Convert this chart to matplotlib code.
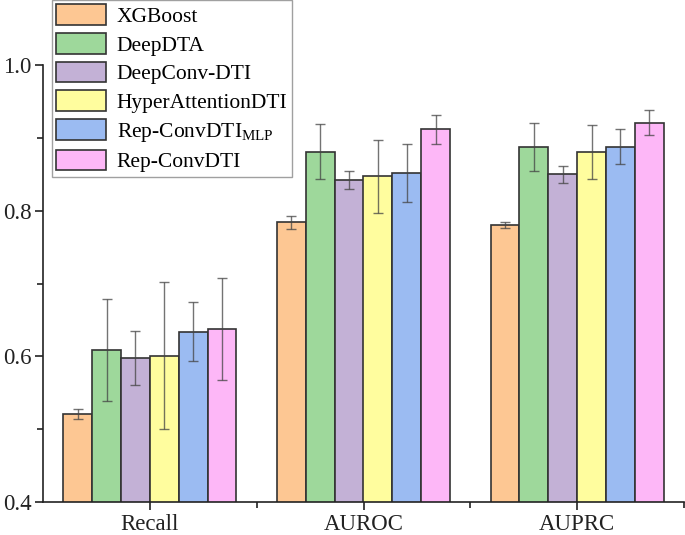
import numpy as np
import matplotlib
matplotlib.use('Agg')
import matplotlib.pyplot as plt

plt.rcParams['font.family'] = ['Liberation Serif', 'DejaVu Serif']
plt.rcParams['mathtext.fontset'] = 'custom'
plt.rcParams['mathtext.rm'] = 'Liberation Serif'

metrics = ['Recall', 'AUROC', 'AUPRC']
models = ['XGBoost', 'DeepDTA', 'DeepConv-DTI', 'HyperAttentionDTI',
          r'Rep-ConvDTI$_{\mathrm{MLP}}$', 'Rep-ConvDTI']
colors = ['#FDC793', '#9ED89B', '#C3B1D6', '#FFFD9E', '#9BBBF2', '#FDB7F7']

# mean values per model (Recall, AUROC, AUPRC)
xgboost = [0.521, 0.784, 0.780]
deepdta = [0.609, 0.881, 0.888]
deepconv = [0.598, 0.842, 0.850]
hyperatt = [0.601, 0.847, 0.881]
rep_mlp = [0.634, 0.852, 0.888]
rep_conv = [0.638, 0.912, 0.921]

# error (std) per model
xgboost_err = [0.0065, 0.009, 0.004]
deepdta_err = [0.070, 0.038, 0.033]
deepconv_err = [0.037, 0.012, 0.012]
hyperatt_err = [0.101, 0.050, 0.037]
rep_mlp_err = [0.040, 0.040, 0.024]
rep_conv_err = [0.070, 0.020, 0.017]

values = [xgboost, deepdta, deepconv, hyperatt, rep_mlp, rep_conv]
errors = [xgboost_err, deepdta_err, deepconv_err, hyperatt_err, rep_mlp_err, rep_conv_err]

fig = plt.figure(figsize=(6.85, 5.35), dpi=100)
ax = fig.add_axes([43 / 685, 33 / 535, 641 / 685, 437 / 535])

x = np.arange(len(metrics))
width = 0.135
for i, (vals, errs) in enumerate(zip(values, errors)):
    pos = x + (i - 2.5) * width
    ax.bar(pos, vals, width, color=colors[i], edgecolor='#333333',
           linewidth=1.2, label=models[i], zorder=2)
    ax.errorbar(pos, vals, yerr=errs, fmt='none', ecolor='#444444',
                alpha=0.75, elinewidth=1, capsize=3.5, capthick=1, zorder=3)

ax.set_xlim(-0.5, 2.5)
ax.set_ylim(0.4, 1.0)
ax.set_xticks(x)
ax.set_xticklabels(metrics)
ax.set_xticks([0.5, 1.5, 2.5], minor=True)
ax.set_yticks([0.4, 0.6, 0.8, 1.0])
ax.set_yticklabels(['0.4', '0.6', '0.8', '1.0'])
ax.set_yticks([0.5, 0.7, 0.9], minor=True)

for s in ['top', 'right']:
    ax.spines[s].set_visible(False)
for s in ['left', 'bottom']:
    ax.spines[s].set_linewidth(1.2)
    ax.spines[s].set_color('#222222')

ax.tick_params(axis='both', which='major', labelsize=16.5, length=6, width=1.2,
               direction='out', pad=2, colors='#222222')
ax.tick_params(axis='both', which='minor', length=4, width=1.2, direction='out',
               colors='#222222')
ax.tick_params(axis='x', which='major', pad=2.5)

leg = fig.legend(loc='upper left', bbox_to_anchor=(52 / 685, 1.0), fontsize=15.5,
                 frameon=True, fancybox=False, handlelength=2.3, handleheight=1.1,
                 labelspacing=0.28, borderpad=0.2, handletextpad=0.5,
                 borderaxespad=0)
leg.get_frame().set_edgecolor('#888888')
leg.get_frame().set_linewidth(1.0)

fig.savefig('out.png', dpi=100)
